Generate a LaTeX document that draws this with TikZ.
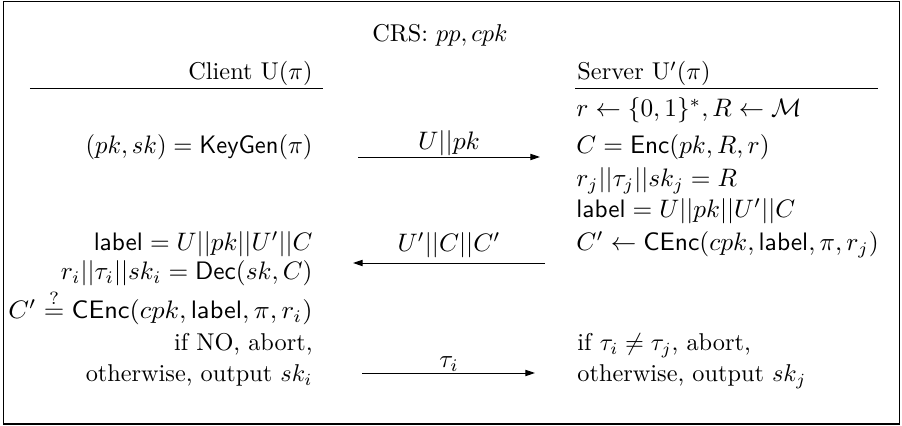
\documentclass[tikz,border=0pt]{standalone}
\usepackage{amsmath,amssymb,graphicx}
\usetikzlibrary{arrows.meta}
\newcommand{\ms}[2][1.04]{\scalebox{#1}[1.04]{$#2$}}
\begin{document}
\begin{tikzpicture}[x=0.4115pt,y=-0.4115pt,
  lt/.style={anchor=base east,inner sep=0pt},
  rt/.style={anchor=base west,inner sep=0pt},
  ct/.style={anchor=base,inner sep=0pt},
  msg/.style={line width=0.4pt,-{Triangle[length=4pt,width=2.6pt]}},
  rulel/.style={line width=0.4pt},
  frame/.style={line width=0.5pt}]
\useasboundingbox (0,0) rectangle (902,426);
\draw[frame] (3.5,1.5) rectangle (899.5,424);
% header
\node[ct] (crs) at (440,42) {CRS: $pp, cpk$};
\node[lt] (client) at (313,80) {Client U($\pi$)};
\node[rt] (server) at (577,80) {Server U$'$($\pi$)};
\draw[rulel] (30,88) -- (323,88);
\draw[rulel] (575,88) -- (878,88);
% server column
\node[rt] (s1) at (576,117) {\ms{r \leftarrow \{0,1\}^*, R \leftarrow \mathcal{M}}};
\node[rt] (s2) at (576,154) {\ms{C = \mathsf{Enc}(pk,R,r)}};
\node[rt] (s3) at (576,187) {\ms{r_j||\tau_j||sk_j = R}};
\node[rt] (s4) at (576,218) {\ms{\mathsf{label} = U||pk||U'||C}};
\node[rt] (s5) at (576,251) {\ms[1.05]{C' \leftarrow \mathsf{CEnc}(cpk,\mathsf{label},\pi,r_j)}};
\node[rt] (s6) at (577,351) {if $\tau_i \neq \tau_j$, abort,};
\node[rt] (s7) at (577,382) {otherwise, output $sk_j$};
% client column
\node[lt] (c1) at (313,154) {\ms[1.01]{(pk,sk) = \mathsf{KeyGen}(\pi)}};
\node[lt] (c2) at (313,251) {\ms{\mathsf{label} = U||pk||U'||C}};
\node[lt] (c3) at (313,280) {\ms{r_i||\tau_i||sk_i = \mathsf{Dec}(sk,C)}};
\node[lt] (c4) at (313,319) {\ms[1.085]{C' \mathrel{\smash{\stackrel{?}{=}}} \mathsf{CEnc}(cpk,\mathsf{label},\pi,r_i)}};
\node[lt] (c5) at (313,351) {if NO, abort,};
\node[lt] (c6) at (313,382) {otherwise, output $sk_i$};
% messages
\node[ct] (m1) at (449,150) {\ms[1.06]{U||pk}};
\coordinate (m1a) at (358,157);
\coordinate (m1b) at (540,157);
\draw[msg] (m1a) -- (m1b);
\node[ct] (m2) at (449,252) {\ms[1.05]{U'||C||C'}};
\coordinate (m2a) at (353,263);
\coordinate (m2b) at (545,263);
\draw[msg] (m2b) -- (m2a);
\node[ct] (m3) at (449,368) {\ms{\tau_i}};
\coordinate (m3a) at (362,373);
\coordinate (m3b) at (535,373);
\draw[msg] (m3a) -- (m3b);
\end{tikzpicture}
\end{document}
